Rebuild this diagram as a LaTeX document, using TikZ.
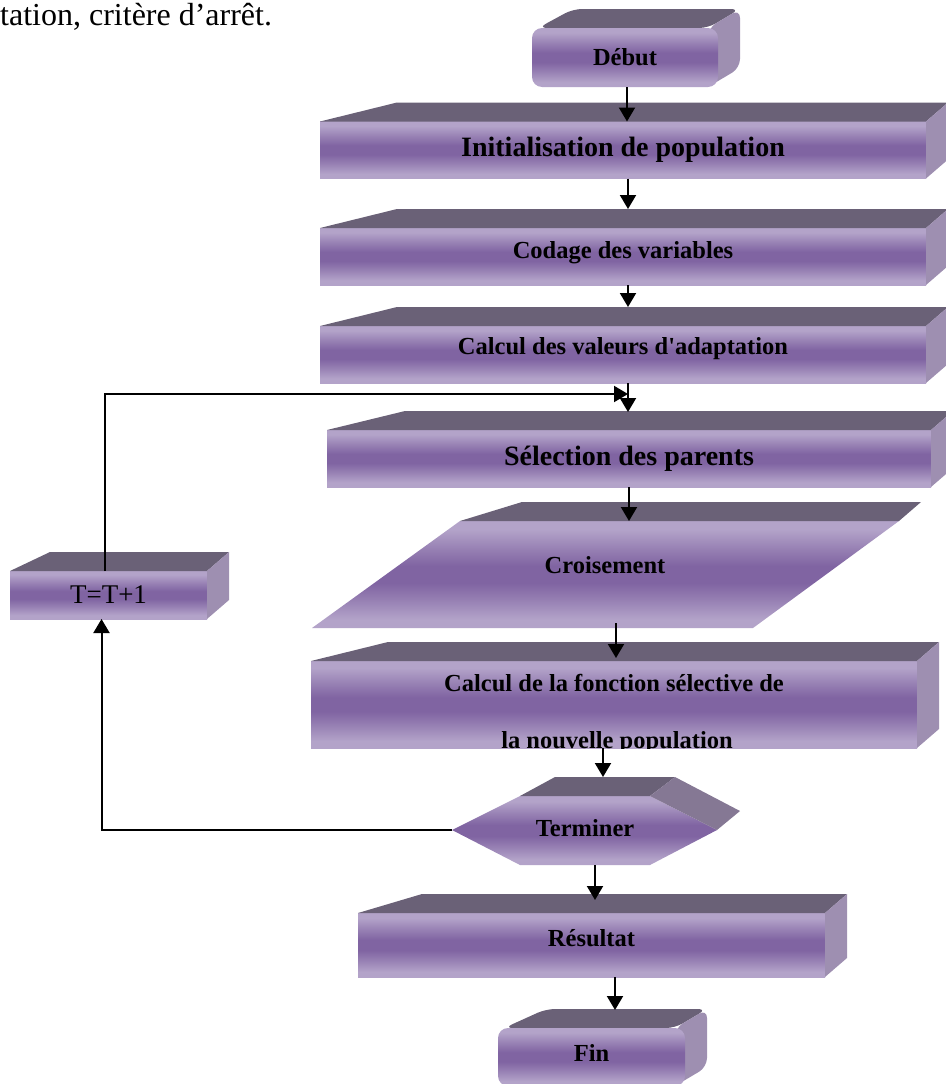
\documentclass[tikz,border=0pt]{standalone}
\usepackage{fontspec}
\setmainfont{Liberation Serif}
\usetikzlibrary{arrows.meta,calc,backgrounds}

\definecolor{lavlight}{HTML}{B3A3C9}
\definecolor{lavdark}{HTML}{8064A2}
\definecolor{topgrey}{HTML}{6A6177}
\definecolor{sidegrey}{HTML}{9E8FB1}
\definecolor{hexgrey}{HTML}{857894}

\pgfdeclareverticalshading{lavband}{100bp}{%
  color(0bp)=(lavlight); color(25bp)=(lavlight); color(29bp)=(lavlight);
  color(38bp)=(lavlight!45!lavdark); color(46bp)=(lavdark); color(54bp)=(lavdark);
  color(62bp)=(lavlight!45!lavdark); color(71bp)=(lavlight); color(75bp)=(lavlight);
  color(100bp)=(lavlight)}

\newcommand\headfont{\fontsize{32}{36}\selectfont}
\newcommand\stepfont{\fontsize{24.5}{27}\selectfont\bfseries}
\newcommand\bigstepfont{\fontsize{28}{31}\selectfont\bfseries}
\newcommand\incrfont{\fontsize{27}{30}\selectfont}

% top and right faces of a box node
\newcommand\extrude[2]{%
  \fill[topface] (#1.north west) -- ++(#2,-19) -- ($(#1.north east)+(22,-19)$) -- (#1.north east) -- cycle;
  \fill[sideface] (#1.north east) -- ++(22,-19) -- ($(#1.south east)+(22,-19)$) -- (#1.south east) -- cycle;}
% same, for the rounded boxes
\newcommand\extrudeground[2]{%
  \begin{scope}[on background layer, rounded corners=9pt]
    \fill[topface] ($(#1.north west)+(6,0)$) -- ++(#2,-19) -- ($(#1.north east)+(22,-19)$) -- ($(#1.north east)+(-10,0)$) -- cycle;
    \fill[sideface] ($(#1.north east)+(-10,0)$) -- ($(#1.north east)+(22,-19)$) -- ($(#1.south east)+(22,-19)$) -- ($(#1.south east)+(-10,0)$) -- cycle;
  \end{scope}}

\tikzset{
  front/.style={shade, shading=lavband, inner sep=0pt, outer sep=0pt, minimum height=57pt, font=\stepfont},
  topface/.style={fill=topgrey},
  sideface/.style={fill=sidegrey},
  arr/.style={line width=2pt, -{Triangle[width=16pt,length=14pt]}},
}

\begin{document}
\begin{tikzpicture}[x=1pt, y=-1pt]
\useasboundingbox (0,0) rectangle (945,1084);

\node[anchor=base west, inner sep=0pt, font=\headfont] (head) at (0,25) {tation, critère d’arrêt.};

% boxes of the main column
\node[front, rounded corners=10pt, minimum width=186pt, minimum height=59pt] (debut) at (625,57.5) {Début};
\node[front, minimum width=606pt, font=\bigstepfont] (init) at (623,150) {Initialisation de population};
\node[front, minimum width=606pt, text depth=14pt] (codage) at (623,256.5) {Codage des variables};
\node[front, minimum width=606pt, text depth=17pt] (adapt) at (623,354.5) {Calcul des valeurs d\textquotesingle adaptation};
\node[front, minimum width=604pt, font=\bigstepfont] (select) at (629,458.5) {Sélection des parents};

\shade[shading=lavband] (312,628) coordinate (crossSW) -- (460,521) coordinate (crossNW)
  -- (899,521) coordinate (crossNE) -- (753,628) coordinate (crossSE) -- cycle;
\fill[topface] (crossNW) -- ++(62,-19) -- ($(crossNE)+(22,-19)$) -- (crossNE) -- cycle;
\node[font=\stepfont] (cross) at (605,565) {Croisement};

\node[front, minimum width=606pt, minimum height=87pt, path picture={
    \node[font=\stepfont, anchor=base] at ($(path picture bounding box.center)+(0,-13.5)$) {Calcul de la fonction sélective de};
    \node[font=\stepfont, anchor=base] at ($(path picture bounding box.center)+(3,44)$) {la nouvelle population};}]
  (fitness) at (614,704.5) {};

\shade[shading=lavband] (452,830) coordinate (termW) -- (520,796) coordinate (termNW)
  -- (650,796) coordinate (termNE) -- (717,830) coordinate (termE)
  -- (650,865) coordinate (termSE) -- (520,865) coordinate (termSW) -- cycle;
\fill[topface] (termNW) -- ++(35,-19) -- ($(termNE)+(25,-19)$) -- (termNE) -- cycle;
\fill[hexgrey] (termNE) -- ++(25,-19) -- ($(termE)+(23,-19)$) -- (termE) -- cycle;
\node[font=\stepfont] (term) at (585,828) {Terminer};

\node[front, minimum width=467pt, minimum height=64pt, text depth=15pt] (result) at (591.5,945) {Résultat};
\node[front, rounded corners=10pt, minimum width=187pt, minimum height=58pt, text depth=8pt] (fin) at (591.5,1057) {Fin};

% loop box
\node[front, minimum width=197pt, minimum height=48pt, font=\incrfont] (incr) at (108.5,595) {T=T+1};

\extrudeground{debut}{35}
\extrude{init}{77}
\extrude{codage}{77}
\extrude{adapt}{77}
\extrude{select}{78}
\extrude{fitness}{77}
\extrude{result}{64}
\extrudeground{fin}{42}
\extrude{incr}{40}

% connectors
\draw[arr] ($(debut.south)+(2,0)$) -- ($(debut.south |- init.north)+(2,0)$);
\draw[arr] ($(init.south)+(5,0)$) -- ($(codage.north)+(5,-19)$);
\draw[arr] ($(codage.south)+(5,0)$) -- ($(adapt.north)+(5,-19)$);
\draw[arr] ($(adapt.south)+(5,0)$) -- ($(select.north)+(-1,-18)$);
\draw[arr] (select.south) -- (select.south |- crossNW);
\draw[arr] ($(fitness.north |- crossSE)+(2,-5)$) -- ($(fitness.north)+(2,-3)$);
\draw[arr] ($(fitness.south)+(-11,0)$) -- ($(fitness.south |- termNW)+(-11,-19)$);
\draw[arr] ($(term |- termSW)+(10,0)$) -- ($(term |- result.north)+(10,-13)$);
\draw[arr] ($(result.south)+(23.5,0)$) -- ($(fin.north)+(23.5,-18)$);
\draw[arr] (termW) -| ($(incr.south)+(-7,0)$);
\draw[arr] ($(incr.north)+(-3.5,0)$) |- ($(adapt.south)+(5,11)$);
\end{tikzpicture}
\end{document}
